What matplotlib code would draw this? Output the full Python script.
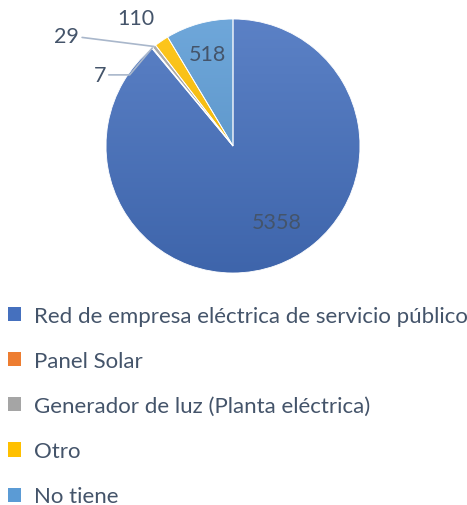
import numpy as np
import matplotlib
matplotlib.use('Agg')
import matplotlib.pyplot as plt
from matplotlib.patches import Patch
from matplotlib.colors import to_rgb

plt.rcParams['font.family'] = ['Lato', 'DejaVu Sans']

# datos
categorias = ['Red de empresa eléctrica de servicio público', 'Panel Solar',
              'Generador de luz (Planta eléctrica)', 'Otro', 'No tiene']
valores = [5358, 7, 29, 110, 518]
colores = ['#4570BE', '#ED7D31', '#A5A5A5', '#FFC000', '#5B9BD5']
col_texto = '#44546A'

W, H = 467, 506
fig = plt.figure(figsize=(W / 100, H / 100), dpi=100)
cx, cy, r = 233, 147, 127
ax = fig.add_axes([(cx - r) / W, (H - cy - r) / H, 2 * r / W, 2 * r / H])

wedges, _ = ax.pie(valores, colors=colores, startangle=90, counterclock=False,
                   radius=1, wedgeprops=dict(edgecolor='white', linewidth=0.6))
ax.set_aspect('equal')
ax.axis('off')

# degradado vertical dentro de cada sector
grad = np.linspace(0, 1, 256).reshape(-1, 1)
for w, c in zip(wedges, colores):
    base = np.array(to_rgb(c))
    top = base + (1 - base) * 0.12
    bot = base * 0.9
    img = top[None, None, :] * (1 - grad[:, :, None]) + bot[None, None, :] * grad[:, :, None]
    im = ax.imshow(img, extent=[-1, 1, -1, 1], origin='upper', zorder=1.5, aspect='auto')
    im.set_clip_path(w)
    w.set_facecolor('none')
    w.set_zorder(2)
ax.set_xlim(-1, 1)
ax.set_ylim(-1, 1)

def mid(w):
    return np.deg2rad((w.theta1 + w.theta2) / 2)

fs = 15.5
# etiquetas de datos
a = mid(wedges[4])
ax.text(0.75 * np.cos(a), 0.75 * np.sin(a), str(valores[4]), ha='center', va='center',
        fontsize=fs, color=col_texto)
a = mid(wedges[0]) + np.deg2rad(10)
ax.text(0.69 * np.cos(a), 0.69 * np.sin(a), str(valores[0]), ha='center', va='center',
        fontsize=fs, color=col_texto)
a = mid(wedges[3])
ax.text(1.27 * np.cos(a + np.deg2rad(3)), 1.27 * np.sin(a + np.deg2rad(3)), str(valores[3]),
        ha='center', va='center', fontsize=fs, color=col_texto)

linea = dict(arrowstyle='-', color='#A9B7CB', lw=1.2, shrinkA=0, shrinkB=0)
a = mid(wedges[2])
ax.annotate(str(valores[2]), xy=(np.cos(a), np.sin(a)), xytext=(-1.21, 0.87),
            ha='right', va='center', fontsize=fs, color=col_texto,
            arrowprops=dict(linea, connectionstyle='arc,angleA=0,angleB=180,armA=0,armB=0'))
a = mid(wedges[1])
ax.annotate(str(valores[1]), xy=(np.cos(a), np.sin(a)), xytext=(-1.0, 0.56),
            ha='right', va='center', fontsize=fs, color=col_texto,
            arrowprops=dict(linea, connectionstyle='angle,angleA=0,angleB=230,rad=0'))

handles = [Patch(facecolor=c, edgecolor='none') for c in colores]
leg = fig.legend(handles, categorias, loc='upper left', bbox_to_anchor=(8 / W, 1 - 307 / H),
                 frameon=False, fontsize=16, handlelength=0.6, handleheight=0.6,
                 handletextpad=0.55, labelspacing=1.13, borderaxespad=0, borderpad=0)
for t in leg.get_texts():
    t.set_color(col_texto)

fig.savefig('out.png', dpi=100)
